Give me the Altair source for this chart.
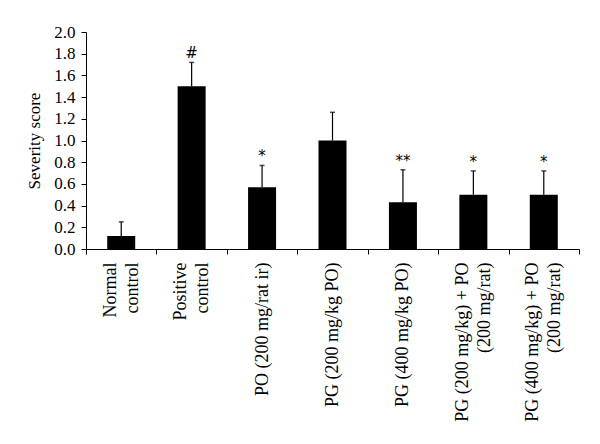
import altair as alt
import pandas as pd

categories = [
    "Normal|control",
    "Positive|control",
    "PO (200 mg/rat ir)",
    "PG (200 mg/kg PO)",
    "PG (400 mg/kg PO)",
    "PG (200 mg/kg) + PO|(200 mg/rat)",
    "PG (400 mg/kg) + PO|(200 mg/rat)",
]
means = [0.12, 1.50, 0.57, 1.00, 0.43, 0.50, 0.50]
uppers = [0.25, 1.72, 0.77, 1.26, 0.73, 0.72, 0.72]
marks = ["", "#", "*", "", "**", "*", "*"]

df = pd.DataFrame({"cat": categories, "mean": means, "upper": uppers, "mark": marks})

FONT = "Liberation Serif"
HALF = 11  # half of the line spacing between the two label lines

label_expr = (
    "indexof(datum.label, '|') >= 0 ? "
    "split(replace(datum.label, '|', '|\u200b|'), '|') : "
    "split('|' + datum.label, '|')"
)

x = alt.X(
    "cat:N",
    sort=categories,
    title=None,
    scale=alt.Scale(paddingInner=0, paddingOuter=0),
    axis=alt.Axis(
        labelAngle=-90,
        labelAlign="right",
        labelBaseline="middle",
        labelExpr=label_expr,
        labelPadding=8,
        labelLineHeight=HALF,
        labelOffset=-HALF,
        labelFontSize=18,
        tickBand="extent",
        labelLimit=300,
    ),
)

yscale = alt.Scale(domain=[0, 2.0], nice=False)
yaxis = alt.Axis(
    values=[0, 0.2, 0.4, 0.6, 0.8, 1.0, 1.2, 1.4, 1.6, 1.8, 2.0],
    format=".1f",
    grid=False,
    labelOverlap=False,
    labelPadding=6,
    titlePadding=10,
)

base = alt.Chart(df).encode(x=x)

bars = base.mark_bar(color="black", size=28).encode(
    y=alt.Y("mean:Q", title="Severity score", scale=yscale, axis=yaxis)
)
err = base.mark_rule(color="black", strokeWidth=1.2).encode(
    y=alt.Y("mean:Q", title="Severity score", scale=yscale, axis=yaxis), y2="upper:Q"
)
cap = base.mark_tick(color="black", size=5, thickness=1.5, orient="horizontal").encode(
    y=alt.Y("upper:Q", title="Severity score", scale=yscale, axis=yaxis)
)
txt = base.mark_text(font="DejaVu Sans", fontSize=15, baseline="bottom", dy=-1, fill="black", color="black").encode(
    y=alt.Y("upper:Q", title="Severity score", scale=yscale, axis=yaxis), text="mark:N"
)

chart = (
    alt.layer(bars, err, cap, txt)
    .properties(
        width=493,
        height=217,
        padding={"left": 78, "top": 24, "right": 8, "bottom": 180},
        autosize=alt.AutoSizeParams(type="none"),
        background="white",
    )
    .configure_view(stroke=None)
    .configure_axis(
        labelFont=FONT,
        labelFontSize=17,
        labelColor="black",
        titleFont=FONT,
        titleFontSize=17,
        titleFontWeight="normal",
        titleColor="black",
        tickColor="black",
        tickSize=5,
        domainColor="black",
    )
)

chart.save("out.html", embed_options={"renderer": "svg", "actions": False})
